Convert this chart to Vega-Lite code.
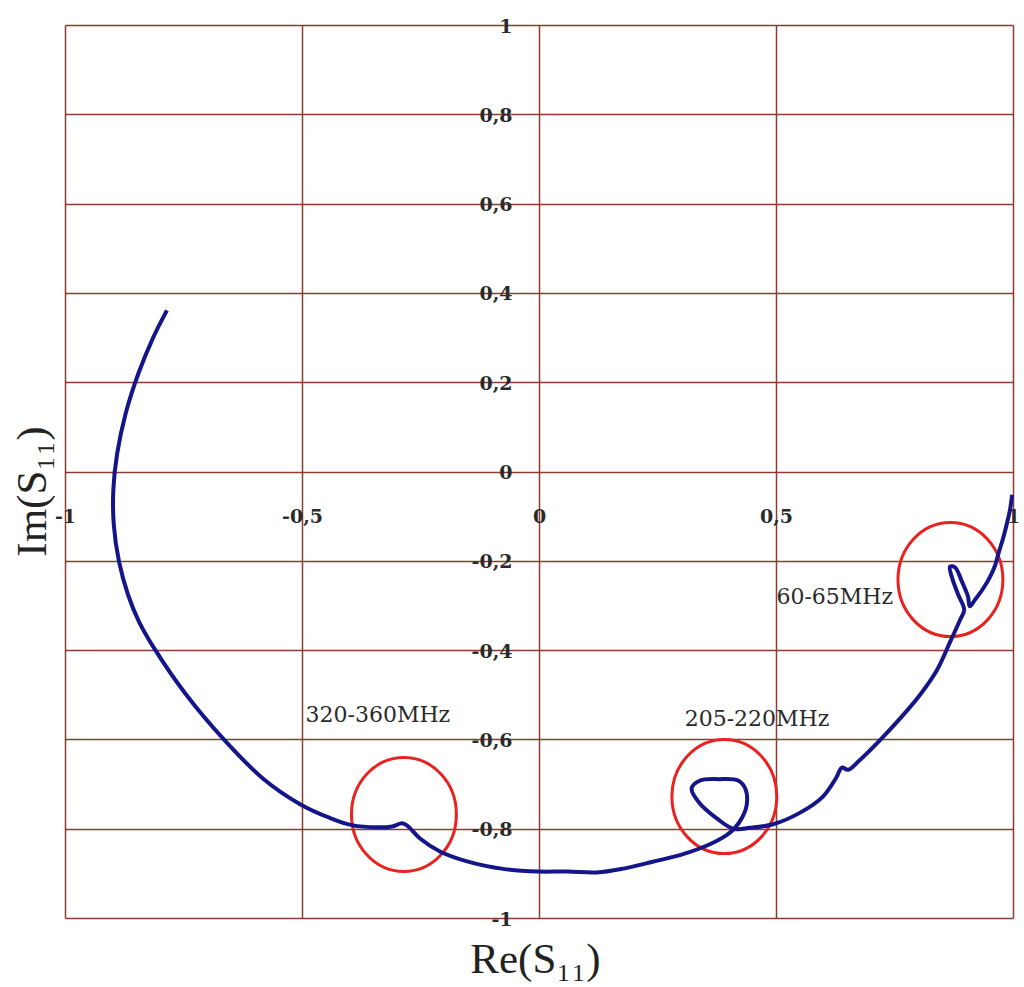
{
  "$schema": "https://vega.github.io/schema/vega-lite/v6.json",
  "width": 948,
  "height": 893,
  "autosize": {"type": "none"},
  "padding": {"left": 65, "top": 25, "right": 11, "bottom": 69},
  "background": "white",
  "config": {"view": {"stroke": null}},
  "datasets": {
    "curve": [
      {"order": 1, "re": -0.785, "im": 0.361},
      {"order": 2, "re": -0.814, "im": 0.3},
      {"order": 3, "re": -0.845, "im": 0.22},
      {"order": 4, "re": -0.872, "im": 0.13},
      {"order": 5, "re": -0.89, "im": 0.04},
      {"order": 6, "re": -0.898, "im": -0.04},
      {"order": 7, "re": -0.897, "im": -0.12},
      {"order": 8, "re": -0.886, "im": -0.202},
      {"order": 9, "re": -0.867, "im": -0.276},
      {"order": 10, "re": -0.844, "im": -0.336},
      {"order": 11, "re": -0.81, "im": -0.399},
      {"order": 12, "re": -0.745, "im": -0.499},
      {"order": 13, "re": -0.665, "im": -0.6},
      {"order": 14, "re": -0.582, "im": -0.688},
      {"order": 15, "re": -0.504, "im": -0.745},
      {"order": 16, "re": -0.441, "im": -0.776},
      {"order": 17, "re": -0.395, "im": -0.792},
      {"order": 18, "re": -0.34, "im": -0.797},
      {"order": 19, "re": -0.31, "im": -0.795},
      {"order": 20, "re": -0.289, "im": -0.788},
      {"order": 21, "re": -0.278, "im": -0.793},
      {"order": 22, "re": -0.251, "im": -0.822},
      {"order": 23, "re": -0.209, "im": -0.851},
      {"order": 24, "re": -0.146, "im": -0.875},
      {"order": 25, "re": -0.076, "im": -0.89},
      {"order": 26, "re": -0.002, "im": -0.896},
      {"order": 27, "re": 0.06, "im": -0.896},
      {"order": 28, "re": 0.122, "im": -0.898},
      {"order": 29, "re": 0.175, "im": -0.89},
      {"order": 30, "re": 0.24, "im": -0.874},
      {"order": 31, "re": 0.304, "im": -0.857},
      {"order": 32, "re": 0.358, "im": -0.836},
      {"order": 33, "re": 0.395, "im": -0.815},
      {"order": 34, "re": 0.412, "im": -0.8},
      {"order": 35, "re": 0.428, "im": -0.776},
      {"order": 36, "re": 0.438, "im": -0.748},
      {"order": 37, "re": 0.436, "im": -0.712},
      {"order": 38, "re": 0.42, "im": -0.692},
      {"order": 39, "re": 0.38, "im": -0.689},
      {"order": 40, "re": 0.34, "im": -0.692},
      {"order": 41, "re": 0.322, "im": -0.71},
      {"order": 42, "re": 0.338, "im": -0.742},
      {"order": 43, "re": 0.375, "im": -0.777},
      {"order": 44, "re": 0.41, "im": -0.8},
      {"order": 45, "re": 0.445, "im": -0.798},
      {"order": 46, "re": 0.494, "im": -0.79},
      {"order": 47, "re": 0.551, "im": -0.764},
      {"order": 48, "re": 0.599, "im": -0.728},
      {"order": 49, "re": 0.627, "im": -0.686},
      {"order": 50, "re": 0.639, "im": -0.663},
      {"order": 51, "re": 0.652, "im": -0.668},
      {"order": 52, "re": 0.677, "im": -0.646},
      {"order": 53, "re": 0.719, "im": -0.602},
      {"order": 54, "re": 0.762, "im": -0.553},
      {"order": 55, "re": 0.804, "im": -0.5},
      {"order": 56, "re": 0.84, "im": -0.444},
      {"order": 57, "re": 0.868, "im": -0.38},
      {"order": 58, "re": 0.888, "im": -0.333},
      {"order": 59, "re": 0.897, "im": -0.31},
      {"order": 60, "re": 0.884, "im": -0.275},
      {"order": 61, "re": 0.87, "im": -0.233},
      {"order": 62, "re": 0.867, "im": -0.213},
      {"order": 63, "re": 0.878, "im": -0.215},
      {"order": 64, "re": 0.892, "im": -0.246},
      {"order": 65, "re": 0.905, "im": -0.28},
      {"order": 66, "re": 0.909, "im": -0.302},
      {"order": 67, "re": 0.92, "im": -0.287},
      {"order": 68, "re": 0.937, "im": -0.262},
      {"order": 69, "re": 0.951, "im": -0.237},
      {"order": 70, "re": 0.962, "im": -0.211},
      {"order": 71, "re": 0.97, "im": -0.181},
      {"order": 72, "re": 0.979, "im": -0.15},
      {"order": 73, "re": 0.987, "im": -0.117},
      {"order": 74, "re": 0.994, "im": -0.084},
      {"order": 75, "re": 0.998, "im": -0.052}
    ],
    "circles": [
      {"re": -0.285, "im": -0.768},
      {"re": 0.391, "im": -0.728},
      {"re": 0.868, "im": -0.242}
    ],
    "labels": [
      {"re": 0.624, "im": -0.282, "text": "60-65MHz"},
      {"re": 0.46, "im": -0.555, "text": "205-220MHz"},
      {"re": -0.34, "im": -0.546, "text": "320-360MHz"}
    ]
  },
  "encoding": {
    "x": {
      "field": "re",
      "type": "quantitative",
      "scale": {"domain": [-1, 1], "nice": false, "zero": false},
      "axis": {
        "values": [-1, -0.5, 0, 0.5, 1],
        "grid": true,
        "gridColor": "#8a3c30",
        "gridWidth": 1.5,
        "gridOpacity": 1,
        "domain": false,
        "ticks": false,
        "labelPadding": -402,
        "labelBaseline": "middle",
        "labelFlush": false,
        "labelOverlap": false,
        "labelBound": false,
        "labelFont": "DejaVu Serif",
        "labelFontSize": 19,
        "labelFontWeight": "bold",
        "labelColor": "#2a2a2a",
        "labelExpr": "(datum.value < 0 ? '-' : '') + replace(format(abs(datum.value), '~g'), '.', ',')",
        "title": "Re(S₁₁)",
        "titleFont": "Liberation Serif",
        "titleFontSize": 43,
        "titleFontWeight": "normal",
        "titleColor": "#222222",
        "titleX": 470,
        "titleY": 54,
        "titleBaseline": "alphabetic",
        "titleAlign": "center"
      }
    },
    "y": {
      "field": "im",
      "type": "quantitative",
      "scale": {"domain": [-1, 1], "nice": false, "zero": false},
      "axis": {
        "values": [-1, -0.8, -0.6, -0.4, -0.2, 0, 0.2, 0.4, 0.6, 0.8, 1],
        "grid": true,
        "gridColor": "#8a3c30",
        "gridWidth": 1.5,
        "gridOpacity": 1,
        "domain": false,
        "ticks": false,
        "labelPadding": -447,
        "labelBaseline": "middle",
        "labelOffset": 1,
        "labelFlush": false,
        "labelOverlap": false,
        "labelBound": false,
        "labelFont": "DejaVu Serif",
        "labelFontSize": 19,
        "labelFontWeight": "bold",
        "labelColor": "#2a2a2a",
        "labelExpr": "(datum.value < 0 ? '-' : '') + replace(format(abs(datum.value), '~g'), '.', ',')",
        "title": "Im(S₁₁)",
        "titleFont": "Liberation Serif",
        "titleFontSize": 43,
        "titleFontWeight": "normal",
        "titleColor": "#222222",
        "titleX": -20,
        "titleY": 466,
        "titleAngle": -90,
        "titleBaseline": "alphabetic",
        "titleAlign": "center"
      }
    }
  },
  "layer": [
    {
      "data": {"name": "circles"},
      "mark": {
        "type": "point",
        "shape": "M -0.92,0 A 0.92,1 0 1,0 0.92,0 A 0.92,1 0 1,0 -0.92,0 Z",
        "size": 13000,
        "filled": false,
        "stroke": "#e8231f",
        "strokeWidth": 3,
        "opacity": 1
      }
    },
    {
      "data": {"name": "curve"},
      "mark": {
        "type": "line",
        "color": "#15158a",
        "strokeWidth": 4,
        "interpolate": "catmull-rom"
      },
      "encoding": {
        "order": {"field": "order", "type": "quantitative"}
      }
    },
    {
      "data": {"name": "labels"},
      "mark": {
        "type": "text",
        "font": "DejaVu Serif",
        "fontSize": 22,
        "color": "#2a2a2a",
        "align": "center",
        "baseline": "middle"
      },
      "encoding": {
        "text": {"field": "text", "type": "nominal"}
      }
    }
  ]
}
